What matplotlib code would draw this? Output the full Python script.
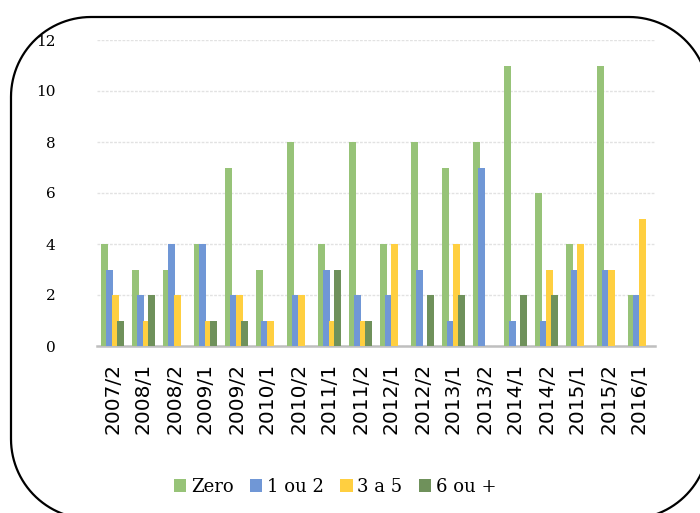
import numpy as np
import matplotlib
matplotlib.use("Agg")
import matplotlib.pyplot as plt
from matplotlib.lines import Line2D

periods = ["2007/2", "2008/1", "2008/2", "2009/1", "2009/2", "2010/1", "2010/2",
           "2011/1", "2011/2", "2012/1", "2012/2", "2013/1", "2013/2", "2014/1",
           "2014/2", "2015/1", "2015/2", "2016/1"]
zero = [4, 3, 3, 4, 7, 3, 8, 4, 8, 4, 8, 7, 8, 11, 6, 4, 11, 2]
um_ou_dois = [3, 2, 4, 4, 2, 1, 2, 3, 2, 2, 3, 1, 7, 1, 1, 3, 3, 2]
tres_a_cinco = [2, 1, 2, 1, 2, 1, 2, 1, 1, 4, 0, 4, 0, 0, 3, 4, 3, 5]
seis_ou_mais = [1, 2, 0, 1, 1, 0, 0, 3, 1, 0, 2, 2, 0, 2, 2, 0, 0, 0]

series = [("Zero", zero, "#97C378"),
          ("1 ou 2", um_ou_dois, "#7097D6"),
          ("3 a 5", tres_a_cinco, "#FFCF40"),
          ("6 ou +", seis_ou_mais, "#6F915B")]

plt.rcParams["font.family"] = ["DejaVu Serif"]

fig = plt.figure(figsize=(7.0, 5.13), dpi=100)
ax = fig.add_axes([97 / 700, 1 - 346 / 513, 558 / 700, 306 / 513])

x = np.arange(len(periods))
step = 0.178
width = 0.23
for i, (name, vals, col) in enumerate(series):
    ax.bar(x + (i - 1.5) * step, vals, width=width, color=col, label=name, zorder=3)

ax.set_xlim(-0.5, len(periods) - 0.5)
ax.set_ylim(0, 12)
ax.set_yticks(range(0, 13, 2))
ax.yaxis.grid(True, color="#E2E2E2", linestyle=(0, (2, 1)), linewidth=1.0, zorder=0)
for s in ["top", "right", "left"]:
    ax.spines[s].set_visible(False)
ax.spines["bottom"].set_color("#BFBFBF")
ax.spines["bottom"].set_linewidth(1.8)
ax.set_xticks(x)
ax.set_xticklabels(periods, rotation=90, fontsize=14.5, va="top", family="DejaVu Sans")
ax.tick_params(axis="x", length=0, pad=12)
ax.tick_params(axis="y", length=0, pad=30, labelsize=11)

leg = ax.legend(loc="center", bbox_to_anchor=(335 / 700, 1 - 487 / 513),
                bbox_transform=fig.transFigure, ncol=4, frameon=False,
                fontsize=13, handlelength=0.7, handleheight=0.7,
                handletextpad=0.25, columnspacing=0.9)

# rounded outer frame in inches (partly cut off by the image edge)
left, right, top, bottom, r = 0.11, 7.09, 4.96, -0.06, 0.8
t = np.linspace(0, np.pi / 2, 30)
px, py = [], []
for cx, cy, a0 in [(right - r, top - r, 0), (left + r, top - r, np.pi / 2),
                   (left + r, bottom + r, np.pi), (right - r, bottom + r, 1.5 * np.pi)]:
    px.extend(cx + r * np.cos(a0 + t))
    py.extend(cy + r * np.sin(a0 + t))
px.append(px[0])
py.append(py[0])
frame = Line2D(px, py, transform=fig.dpi_scale_trans, color="black",
               linewidth=1.6, clip_on=False)
fig.lines.append(frame)

fig.savefig("out.png", dpi=100)
